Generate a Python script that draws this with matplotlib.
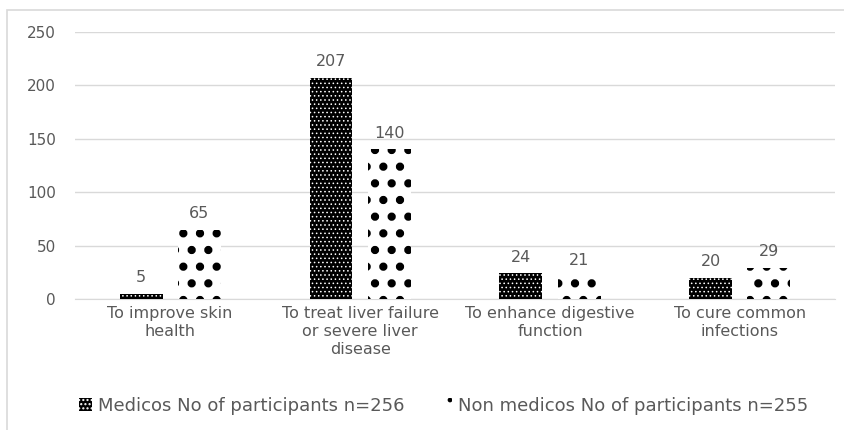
import matplotlib
matplotlib.use("Agg")
from matplotlib import pyplot as plt
from matplotlib.patches import Rectangle
import numpy as np

categories = ["To improve skin\nhealth",
              "To treat liver failure\nor severe liver\ndisease",
              "To enhance digestive\nfunction",
              "To cure common\ninfections"]
medicos = [5, 207, 24, 20]
non_medicos = [65, 140, 21, 29]
series_names = ["Medicos No of participants n=256",
                "Non medicos No of participants n=255"]

plt.rcParams['font.family'] = ['DejaVu Sans']
grey = '#595959'

fig = plt.figure(figsize=(8.45, 4.3), dpi=100)
ax = fig.add_axes([0.089, 0.3047, 0.899, 0.6209])

# outer frame like the exported chart area
fig.patches.append(Rectangle((0.0083, -0.1), 1.2, 1.077, transform=fig.transFigure,
                             fill=False, edgecolor='#d9d9d9', linewidth=1.2))

x = np.arange(len(categories))
w = 0.226
off = 0.153
with plt.rc_context({'hatch.linewidth': 0.6}):
    b1 = ax.bar(x - off, medicos, w, facecolor='black', edgecolor='white',
                linewidth=0, hatch='....', label=series_names[0], zorder=3)
with plt.rc_context({'hatch.linewidth': 3.5}):
    b2 = ax.bar(x + off, non_medicos, w, facecolor='white', edgecolor='black',
                linewidth=0, hatch='.', label=series_names[1], zorder=3)

for bars, vals in ((b1, medicos), (b2, non_medicos)):
    for r, v in zip(bars, vals):
        ax.text(r.get_x() + r.get_width() / 2, v + 8, str(v), ha='center',
                va='bottom', fontsize=11.5, color=grey)

ax.set_xlim(-0.5, 3.5)
ax.set_ylim(0, 250)
ax.set_yticks(range(0, 251, 50))
ax.set_xticks(x)
ax.set_xticklabels(categories, fontsize=11.5, color=grey, va='top', linespacing=1.25)
ax.tick_params(axis='y', labelsize=11, labelcolor=grey, length=0, pad=14)
ax.tick_params(axis='x', length=0, pad=5)
ax.grid(axis='y', color='#d9d9d9', linewidth=1.0, zorder=0)
for s in ['top', 'right', 'left']:
    ax.spines[s].set_visible(False)
ax.spines['bottom'].set_color('#d9d9d9')
ax.set_axisbelow(True)

leg = fig.legend(handles=[b1, b2], loc='center', bbox_to_anchor=(0.525, 0.056),
                 ncol=2, frameon=False, fontsize=13, handlelength=0.7,
                 handleheight=0.7, columnspacing=1.9, handletextpad=0.35)
for t in leg.get_texts():
    t.set_color(grey)

plt.savefig('out.png', dpi=100)
